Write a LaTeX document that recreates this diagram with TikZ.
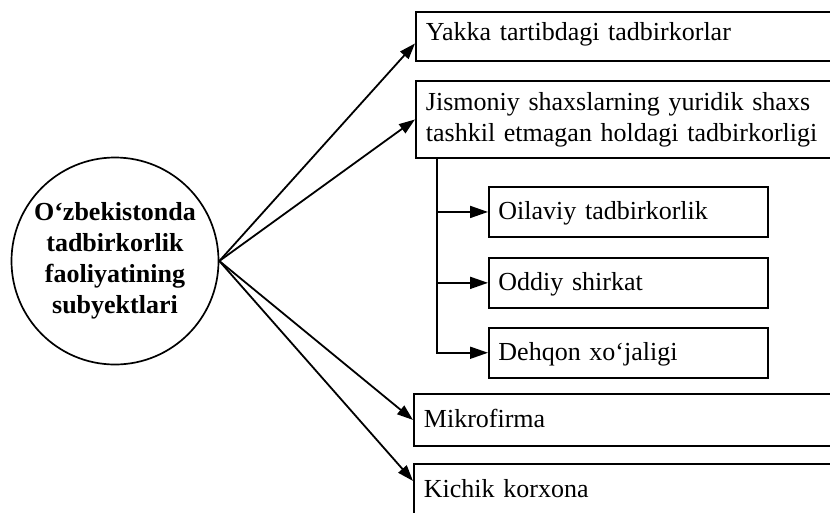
\documentclass[tikz,border=0pt]{standalone}
\usepackage{fontspec}
\setmainfont{Liberation Serif}
\usetikzlibrary{arrows.meta,positioning,calc}

\begin{document}
\begin{tikzpicture}[x=1pt, y=-1pt,
    box/.style={draw, line width=1.9pt, anchor=north west, inner xsep=10pt, inner ysep=0pt,
      text height=16pt, text depth=1pt, font=\fontsize{26}{31}\selectfont},
    wide/.style={box, minimum width=480pt, text width=460pt, align=left},
    subbox/.style={box, minimum width=279pt, minimum height=50pt, text width=260pt, align=left, inner xsep=9pt},
    arr/.style={line width=1.8pt, -{Triangle[length=16pt,width=11pt]}},
    subarr/.style={line width=1.8pt, -{Triangle[length=18pt,width=12pt]}}]
  \useasboundingbox (0,0) rectangle (830,512);
  \clip (0,0) rectangle (830,512);
  % hub
  \node[draw, circle, line width=1.7pt, minimum size=207pt, inner sep=0pt, align=center,
    font=\fontsize{26}{31}\selectfont\bfseries] (hub) at (115,261)
    {O‘zbekistonda\\tadbirkorlik\\faoliyatining\\subyektlari};
  % main boxes
  \node[wide, minimum height=49pt, text depth=7pt] (yakka) at (415,11) {Yakka tartibdagi tadbirkorlar};
  \node[wide, minimum height=77pt, text height=, text depth=] (jismoniy) at (415,80)
    {Jismoniy shaxslarning yuridik shaxs\\tashkil etmagan holdagi tadbirkorligi};
  \node[wide, minimum height=52pt] (mikro) at (413,393) {Mikrofirma};
  \node[wide, minimum height=52pt] (kichik) at (413,463) {Kichik korxona};
  % sub boxes
  \node[subbox] (oilaviy) at (488,186) {Oilaviy tadbirkorlik};
  \node[subbox, below=19pt of oilaviy.south west, anchor=north west] (oddiy) {Oddiy shirkat};
  \node[subbox, below=18pt of oddiy.south west, anchor=north west] (dehqon) {Dehqon xo‘jaligi};
  % arrows
  \draw[arr] (hub.east) -- ($(yakka.west)+(0,7)$);
  \draw[arr] (hub.east) -- (jismoniy.west);
  \draw[arr] (hub.east) -- (mikro.west);
  \draw[arr] (hub.east) -- ($(kichik.west)+(0,-9)$);
  \coordinate (trunk) at ($(jismoniy.south west)+(22,0)$);
  \draw[subarr] (trunk) |- (dehqon.west);
  \draw[subarr] (trunk |- oilaviy.west) -- (oilaviy.west);
  \draw[subarr] (trunk |- oddiy.west) -- (oddiy.west);
\end{tikzpicture}
\end{document}
